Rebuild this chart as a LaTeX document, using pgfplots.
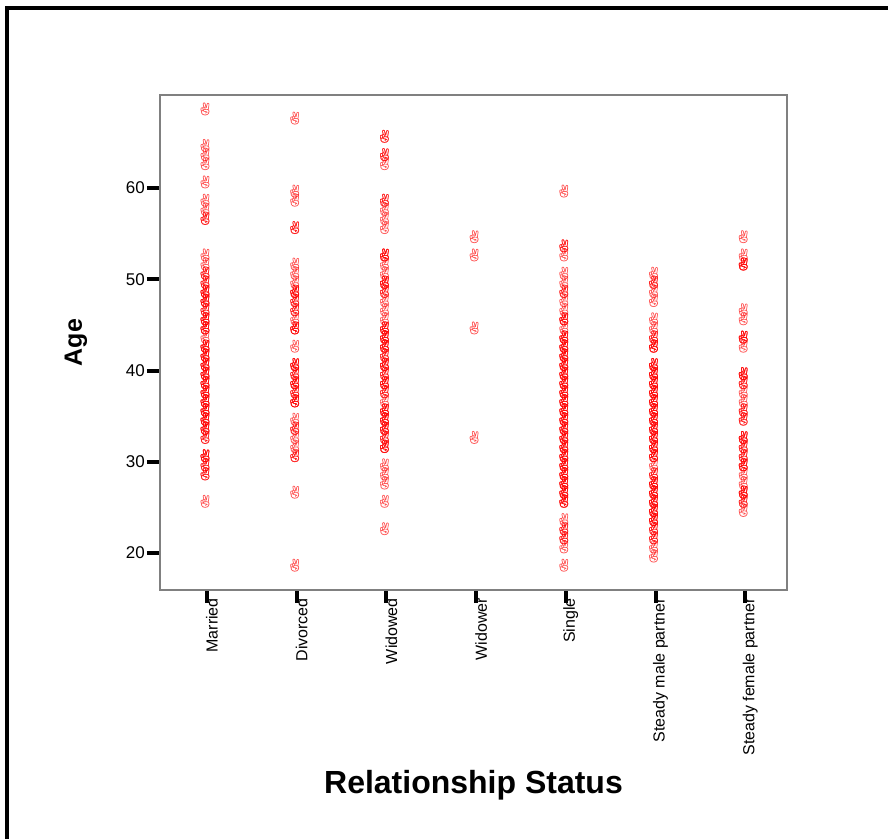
\documentclass[border=0pt]{standalone}
\usepackage{pgfplots}
\pgfplotsset{compat=1.18}
\usepackage{fontspec}
\setmainfont{Liberation Sans}
\newfontfamily\emo[AutoFakeBold=1.6]{Noto Emoji}
\pgfplotsset{vhand/.style={only marks, mark=text, text mark={✌}, text mark as node=true, color=red,
    text mark style={text=red, text opacity=0.45, font=\emo\bfseries\fontsize{12.5bp}{12.5bp}\selectfont, inner sep=0pt, yshift=-3bp, xshift=-2bp}}}
\begin{document}
\begin{tikzpicture}
\useasboundingbox (-160bp,-249bp) rectangle (728bp,590bp);
\begin{axis}[
  at={(0,0)}, anchor=south west,
  scale only axis, width=627bp, height=495bp,
  xmin=-0.524, xmax=6.466, ymin=15.95, ymax=70.2,
  xtick={0,...,6},
  xticklabels={Married,Divorced,Widowed,Widower,Single,Steady male partner,Steady female partner},
  ytick={20,30,40,50,60},
  tick pos=left, tick align=outside,
  major tick length=13bp,
  tick style={black, line width=4bp},
  axis line style={draw=gray, line width=1.3bp},
  /pgf/number format/assume math mode=true,
  yticklabel style={font=\fontsize{17bp}{17bp}\selectfont, anchor=east, inner sep=0pt, xshift=-2bp},
  xticklabel style={font=\fontsize{16bp}{16bp}\selectfont, xshift=5bp, yshift=5bp, rotate=90, anchor=east, inner sep=0pt},
  xlabel={Relationship Status},
  xlabel style={font=\bfseries\fontsize{32bp}{32bp}\selectfont, at={(axis description cs:0.5,-0.394)}, anchor=center},
  ylabel={Age},
  ylabel style={font=\bfseries\fontsize{25bp}{25bp}\selectfont, at={(axis description cs:-0.134,0.5)}, anchor=center},
]
% Married
\addplot[vhand] coordinates {(0,69) (0,65) (0,64) (0,63) (0,61) (0,59) (0,58) (0,57) (0,57)
 (0,53) (0,52) (0,51) (0,51) (0,50) (0,50) (0,49) (0,49) (0,49) (0,48) (0,48) (0,48)
 (0,47) (0,47) (0,46) (0,46) (0,46) (0,45) (0,45) (0,45) (0,44) (0,43) (0,43) (0,43)
 (0,42) (0,42) (0,42) (0,41) (0,41) (0,41) (0,40) (0,40) (0,40) (0,39) (0,39) (0,39)
 (0,38) (0,38) (0,38) (0,37) (0,37) (0,37) (0,36) (0,36) (0,36) (0,35) (0,35) (0,35)
 (0,34) (0,34) (0,34) (0,33) (0,33) (0,31) (0,31) (0,31) (0,30) (0,30) (0,29) (0,29) (0,26)};
% Divorced
\addplot[vhand] coordinates {(1,68) (1,60) (1,59) (1,56) (1,56) (1,52) (1,51) (1,50) (1,49) (1,49) (1,49)
 (1,48) (1,48) (1,47) (1,47) (1,46) (1,45) (1,45) (1,45) (1,43) (1,41) (1,41) (1,41)
 (1,40) (1,40) (1,39) (1,39) (1,39) (1,38) (1,38) (1,37) (1,37) (1,37) (1,35) (1,34) (1,34)
 (1,33) (1,32) (1,31) (1,31) (1,27) (1,19)};
% Widowed
\addplot[vhand] coordinates {(2,66) (2,66) (2,64) (2,64) (2,63) (2,59) (2,59) (2,58) (2,57) (2,56)
 (2,53) (2,53) (2,53) (2,52) (2,51) (2,50) (2,50) (2,50) (2,49) (2,49) (2,48) (2,47) (2,46)
 (2,45) (2,45) (2,45) (2,44) (2,44) (2,44) (2,43) (2,43) (2,43) (2,42) (2,42) (2,41) (2,41) (2,41)
 (2,40) (2,40) (2,39) (2,39) (2,39) (2,38) (2,38) (2,37) (2,36) (2,36) (2,36) (2,35) (2,35) (2,35)
 (2,34) (2,34) (2,34) (2,33) (2,33) (2,32) (2,32) (2,32) (2,30) (2,29) (2,28) (2,26) (2,23)};
% Widower
\addplot[vhand] coordinates {(3,55) (3,53) (3,45) (3,33)};
% Single
\addplot[vhand] coordinates {(4,60) (4,54) (4,54) (4,53) (4,51) (4,50) (4,49) (4,49) (4,48) (4,47)
 (4,46) (4,46) (4,46) (4,45) (4,44) (4,44) (4,44) (4,43) (4,43) (4,43) (4,42) (4,42) (4,42)
 (4,41) (4,41) (4,41) (4,40) (4,40) (4,40) (4,39) (4,39) (4,39) (4,38) (4,38) (4,38)
 (4,37) (4,37) (4,37) (4,36) (4,36) (4,36) (4,35) (4,35) (4,35) (4,34) (4,34) (4,34)
 (4,33) (4,33) (4,33) (4,32) (4,32) (4,32) (4,31) (4,31) (4,31) (4,30) (4,30) (4,30)
 (4,29) (4,29) (4,29) (4,28) (4,28) (4,28) (4,27) (4,27) (4,27) (4,26) (4,26) (4,26)
 (4,24) (4,23) (4,23) (4,22) (4,22) (4,21) (4,19)};
% Steady male partner
\addplot[vhand] coordinates {(5,51) (5,50) (5,50) (5,49) (5,48) (5,46) (5,45) (5,44) (5,44) (5,43) (5,43) (5,43)
 (5,41) (5,41) (5,41) (5,40) (5,40) (5,40) (5,39) (5,39) (5,39) (5,38) (5,38) (5,38)
 (5,37) (5,37) (5,37) (5,36) (5,36) (5,36) (5,35) (5,35) (5,35) (5,34) (5,34) (5,34)
 (5,33) (5,33) (5,33) (5,32) (5,32) (5,32) (5,31) (5,31) (5,31) (5,30) (5,29) (5,29)
 (5,28) (5,28) (5,28) (5,27) (5,27) (5,27) (5,26) (5,26) (5,26) (5,25) (5,25) (5,25)
 (5,24) (5,24) (5,24) (5,23) (5,23) (5,22) (5,22) (5,21) (5,20)};
% Steady female partner
\addplot[vhand] coordinates {(6,55) (6,53) (6,52) (6,52) (6,52) (6,47) (6,46) (6,44) (6,44) (6,44) (6,43)
 (6,40) (6,40) (6,40) (6,39) (6,39) (6,38) (6,37) (6,36) (6,36) (6,35) (6,35)
 (6,33) (6,33) (6,33) (6,32) (6,32) (6,31) (6,31) (6,30) (6,30) (6,30) (6,29) (6,28)
 (6,27) (6,27) (6,27) (6,26) (6,26) (6,25)};
\end{axis}
\draw[line width=4bp] (-152.7bp,-249bp) -- (-152.7bp,582bp) -- (728bp,582bp);
\end{tikzpicture}
\end{document}
